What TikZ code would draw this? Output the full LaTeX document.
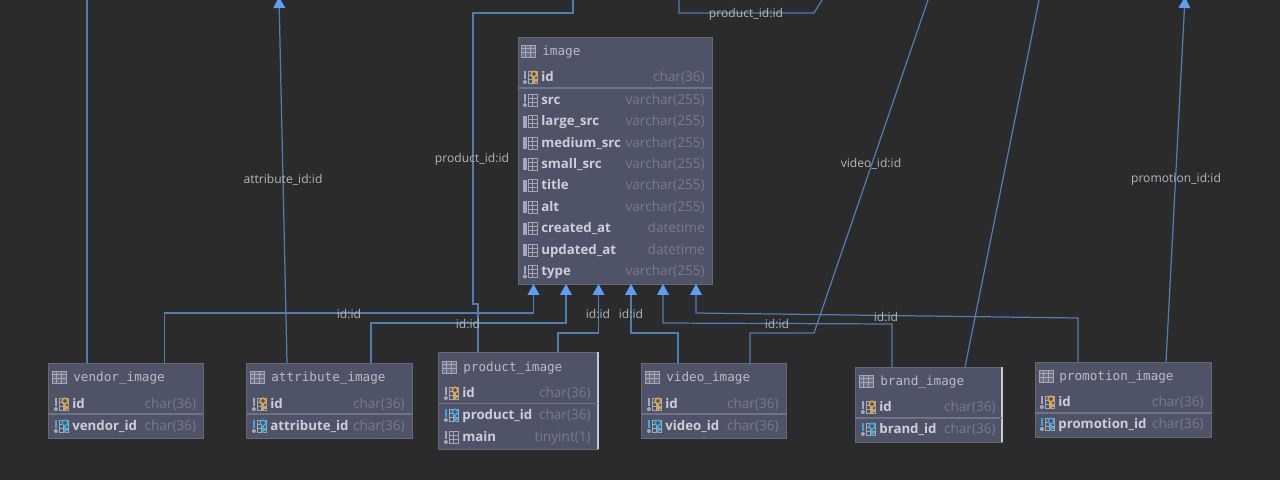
\documentclass[tikz,border=0pt]{standalone}
\usepackage{fontspec}
\setmainfont{Open Sans}
\setmonofont{DejaVu Sans Mono}
\usetikzlibrary{arrows.meta}

\definecolor{canvas}{HTML}{2B2B2B}
\definecolor{tblfill}{HTML}{4E5368}
\definecolor{tbledge}{HTML}{666975}
\definecolor{tblsep}{HTML}{6F7484}
\definecolor{tbllight}{HTML}{C8CACF}
\definecolor{relblue}{HTML}{4F7DB6}
\definecolor{tipblue}{HTML}{5C9FF5}
\definecolor{titletxt}{HTML}{B9BCC4}
\definecolor{coltxt}{HTML}{CDCFD6}
\definecolor{typetxt}{HTML}{777B8B}
\definecolor{reltxt}{HTML}{B4B7BD}
\definecolor{icongray}{HTML}{A5A8B2}
\definecolor{keygold}{HTML}{E0A63E}
\definecolor{keyblue}{HTML}{3FA9D6}

\tikzset{
  tbl/.style={rectangle,draw=tbledge,fill=tblfill,line width=0.45pt,anchor=north west,inner sep=0pt,outer sep=0pt},
  tbltitle/.style={anchor=west,inner sep=0pt,text=titletxt,text height=5.6pt,text depth=1.4pt,font=\ttfamily\fontsize{7.2}{8}\selectfont},
  colname/.style={anchor=west,inner sep=0pt,text=coltxt,text height=5.2pt,text depth=1.4pt,font=\bfseries\fontsize{7.55}{8}\selectfont},
  coltype/.style={anchor=east,inner sep=0pt,text=typetxt,text height=5.2pt,text depth=1.4pt,font=\fontsize{7.75}{8}\selectfont},
  rellabel/.style={inner sep=0pt,text=reltxt,font=\fontsize{6.9}{8}\selectfont},
  rel/.style={draw=relblue,line width=0.7pt},
  relarrow/.style={rel,-{Triangle[width=0.235cm,length=0.22cm,color=tipblue]}},
  sepline/.style={draw=tblsep,line width=0.8pt},
  pics/tblicon/.style={code={
    \draw[icongray,line width=0.4pt,fill=icongray!35!tblfill] (0,-6) rectangle (14,6);
    \draw[icongray,line width=0.4pt] (0,-2.5) -- (14,-2.5) (0,1.5) -- (14,1.5) (4.5,-6) -- (4.5,6) (9.5,-6) -- (9.5,6);
  }},
  pics/gridlet/.style={code={
    \draw[icongray,line width=0.4pt] (6.5,-6) rectangle (15,6) (6.5,-2) -- (15,-2) (6.5,2) -- (15,2) (10,-6) -- (10,6);
  }},
  pics/colplain/.style={code={
    \fill[icongray] (1,-6) rectangle (4.5,6);
    \pic {gridlet};
  }},
  pics/coldot/.style={code={
    \fill[icongray] (1.8,-6) rectangle (4,2);
    \fill[icongray] (2.9,5) circle (2);
    \pic {gridlet};
  }},
  pics/keyed/.style 2 args={code={
    \fill[#1] (1.8,-6) rectangle (4.2,2);
    \fill[icongray] (2.9,5) circle (2);
    \pic {gridlet};
    \draw[#2,line width=1.1pt] (12,-1) -- (12,6.5) (12,4) -- (14.5,4);
    \draw[#2,line width=0.9pt,fill=tblfill] (12,-3) circle (2.8);
  }},
}

\newcommand{\tblrow}[7]{% name, icon, text x, type x, y, text, type
  \pic at (#3-19,#5) {#2};
  \node[colname] (#1) at (#3,#5+1) {#6};
  \node[coltype] (#1type) at (#4,#5+1) {#7};
}

\begin{document}
\begin{tikzpicture}[x=0.02cm,y=-0.02cm]
\useasboundingbox (0,0) rectangle (1280,480);
\fill[canvas] (0,0) rectangle (1280,480);

% free ends
\coordinate (vendortop) at (87,0);
\coordinate (attrtop) at (279,-3);
\coordinate (prodtopa) at (573,0);
\coordinate (prodtopb) at (679,0);
\coordinate (prodtopc) at (822,0);
\coordinate (videotop) at (928,0);
\coordinate (brandtop) at (1039,0);
\coordinate (promotop) at (1185,-3);

% tables
\node[tbl,minimum width=3.88cm,minimum height=4.94cm] (imagetbl) at (518,37) {};
\node[tbl,minimum width=3.1cm,minimum height=1.5cm] (vendortbl) at (48,363) {};
\node[tbl,minimum width=3.31cm,minimum height=1.5cm] (attrtbl) at (246.5,363) {};
\node[tbl,minimum width=3.2cm,minimum height=1.94cm] (prodtbl) at (438,352) {};
\node[tbl,minimum width=2.89cm,minimum height=1.5cm] (videotbl) at (641.5,363) {};
\node[tbl,minimum width=2.94cm,minimum height=1.5cm] (brandtbl) at (855,367) {};
\node[tbl,minimum width=3.52cm,minimum height=1.5cm] (promotbl) at (1035,362) {};

\draw[tbllight,line width=0.7pt] (prodtbl.north east) -- (prodtbl.south east);
\draw[tbllight,line width=0.7pt] (brandtbl.north east) -- (brandtbl.south east);

% relations
\draw[rel] (vendortop) -- (87,0 |- vendortbl.north);
\draw[relarrow] (164.5,0 |- vendortbl.north) -- (164.5,313) -- (533.5,313) -- (533.5,0 |- imagetbl.south);
\draw[relarrow] (287,0 |- attrtbl.north) -- (attrtop);
\draw[relarrow] (371,0 |- attrtbl.north) -- (371,323) -- (566,323) -- (566,0 |- imagetbl.south);
\draw[rel] (478,0 |- prodtbl.north) -- (478,304) -- (473,304) -- (473,13) -- (573,13) -- (prodtopa);
\draw[relarrow] (558,0 |- prodtbl.north) -- (558,333) -- (598.5,333) -- (598.5,0 |- imagetbl.south);
\draw[relarrow] (678,0 |- videotbl.north) -- (678,333) -- (631,333) -- (631,0 |- imagetbl.south);
\draw[rel] (750,0 |- videotbl.north) -- (750,333) -- (814,333) -- (videotop);
\draw[rel] (prodtopb) -- (679,13) -- (814,13) -- (prodtopc);
\draw[relarrow] (892,0 |- brandtbl.north) -- (892,324) -- (663,323) -- (663,0 |- imagetbl.south);
\draw[rel] (965,0 |- brandtbl.north) -- (brandtop);
\draw[relarrow] (1078,0 |- promotbl.north) -- (1078,318) -- (696,313) -- (696,0 |- imagetbl.south);
\draw[relarrow] (1166,0 |- promotbl.north) -- (promotop);

% image
\pic at (521,51) {tblicon};
\node[tbltitle] (imagename) at (542,52) {image};
\draw[sepline] (imagetbl.west |- 0,88) -- (imagetbl.east |- 0,88);
\tblrow{imageid}{keyed={icongray}{keygold}}{541}{705}{77}{id}{char(36)}
\tblrow{imagesrc}{coldot}{541}{705}{100}{src}{varchar(255)}
\tblrow{imagelarge}{colplain}{541}{705}{121.5}{large\_src}{varchar(255)}
\tblrow{imagemedium}{colplain}{541}{705}{143}{medium\_src}{varchar(255)}
\tblrow{imagesmall}{colplain}{541}{705}{164}{small\_src}{varchar(255)}
\tblrow{imagetitle}{colplain}{541}{705}{185.5}{title}{varchar(255)}
\tblrow{imagealt}{colplain}{541}{705}{207}{alt}{varchar(255)}
\tblrow{imagecreated}{colplain}{541}{705}{228.5}{created\_at}{datetime}
\tblrow{imageupdated}{colplain}{541}{705}{250}{updated\_at}{datetime}
\tblrow{imagetype}{coldot}{541}{705}{271.5}{type}{varchar(255)}

% vendor_image
\pic at (52,377) {tblicon};
\node[tbltitle] (vendorname) at (73,378) {vendor\_image};
\draw[sepline] (vendortbl.west |- 0,414) -- (vendortbl.east |- 0,414);
\tblrow{vendorid}{keyed={icongray}{keygold}}{72}{196.5}{404}{id}{char(36)}
\tblrow{vendorfk}{keyed={keyblue}{keyblue}}{72}{196.5}{426}{vendor\_id}{char(36)}

% attribute_image
\pic at (250,377) {tblicon};
\node[tbltitle] (attrname) at (271,378) {attribute\_image};
\draw[sepline] (attrtbl.west |- 0,414) -- (attrtbl.east |- 0,414);
\tblrow{attrid}{keyed={icongray}{keygold}}{270}{405}{404}{id}{char(36)}
\tblrow{attrfk}{keyed={keyblue}{keyblue}}{270}{405}{426}{attribute\_id}{char(36)}

% product_image
\pic at (442,367) {tblicon};
\node[tbltitle] (prodname) at (463,368) {product\_image};
\draw[sepline] (prodtbl.west |- 0,403.5) -- (prodtbl.east |- 0,403.5);
\tblrow{prodid}{keyed={icongray}{keygold}}{462}{591}{393}{id}{char(36)}
\tblrow{prodfk}{keyed={keyblue}{keyblue}}{462}{591}{415}{product\_id}{char(36)}
\tblrow{prodmain}{coldot}{462}{591}{437}{main}{tinyint(1)}

% video_image
\pic at (645,377) {tblicon};
\node[tbltitle] (videoname) at (666,378) {video\_image};
\draw[sepline] (videotbl.west |- 0,414) -- (videotbl.east |- 0,414);
\tblrow{videoid}{keyed={icongray}{keygold}}{665}{779}{404}{id}{char(36)}
\tblrow{videofk}{keyed={keyblue}{keyblue}}{665}{779}{426}{video\_id}{char(36)}

% brand_image
\pic at (859,381) {tblicon};
\node[tbltitle] (brandname) at (880,382) {brand\_image};
\draw[sepline] (brandtbl.west |- 0,418) -- (brandtbl.east |- 0,418);
\tblrow{brandid}{keyed={icongray}{keygold}}{879}{996}{407}{id}{char(36)}
\tblrow{brandfk}{keyed={keyblue}{keyblue}}{879}{996}{429}{brand\_id}{char(36)}

% promotion_image
\pic at (1039,376) {tblicon};
\node[tbltitle] (proname) at (1059,377) {promotion\_image};
\draw[sepline] (promotbl.west |- 0,413) -- (promotbl.east |- 0,413);
\tblrow{promoid}{keyed={icongray}{keygold}}{1058}{1204}{402}{id}{char(36)}
\tblrow{promofk}{keyed={keyblue}{keyblue}}{1058}{1204}{424}{promotion\_id}{char(36)}

% labels
\node[rellabel] (lblattr) at (283,180) {attribute\_id:id};
\node[rellabel] (lblprod) at (472,159) {product\_id:id};
\node[rellabel] (lblprodb) at (746,14) {product\_id:id};
\node[rellabel] (lblvideo) at (871,164) {video\_id:id};
\node[rellabel] (lblpromo) at (1176,179) {promotion\_id:id};
\node[rellabel] (lblvendor) at (349,314) {id:id};
\node[rellabel] (lblattrb) at (468,324) {id:id};
\node[rellabel] (lblprodc) at (598,314) {id:id};
\node[rellabel] (lblvideob) at (631,314) {id:id};
\node[rellabel] (lblbrand) at (777,324) {id:id};
\node[rellabel] (lblpromob) at (886,317) {id:id};
\end{tikzpicture}
\end{document}
